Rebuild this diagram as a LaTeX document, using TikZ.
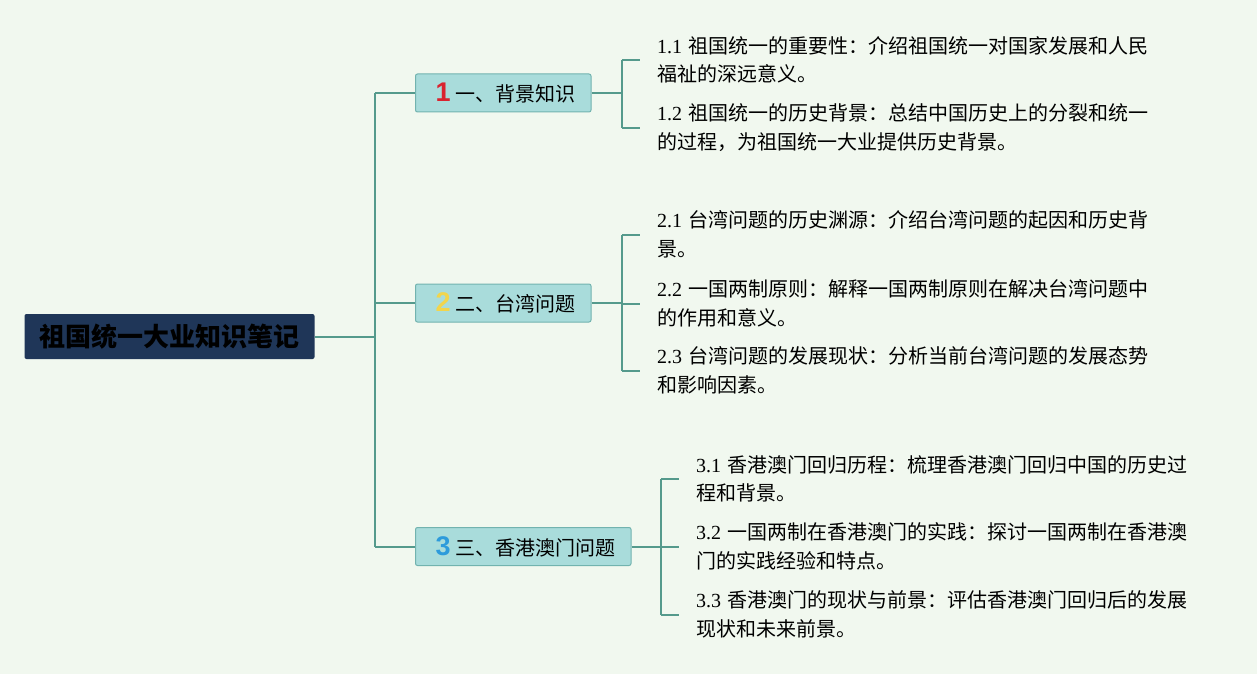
\documentclass[tikz,border=0pt]{standalone}
\usepackage{fontspec}
\setmainfont{Liberation Serif}
\newfontfamily\cjk{Noto Sans CJK SC}
\newfontfamily\numfont{Liberation Sans}
\usetikzlibrary{positioning}

\definecolor{bgcol}{HTML}{F1F8EF}
\definecolor{rootcol}{HTML}{1F3658}
\definecolor{boxcol}{HTML}{A9DCDB}
\definecolor{boxline}{HTML}{72B3AF}
\definecolor{linecol}{HTML}{559A8C}
\definecolor{numred}{HTML}{D9232F}
\definecolor{numyellow}{HTML}{F2D54C}
\definecolor{numblue}{HTML}{2D9BDB}

\tikzset{
	root/.style={fill=rootcol, rounded corners=2pt, minimum height=45pt, inner xsep=15pt, text=black, font=\cjk\bfseries\fontsize{26}{30}\selectfont},
	topic/.style={fill=boxcol, draw=boxline, line width=1pt, rounded corners=2pt, minimum height=38pt, inner xsep=16pt, font=\cjk\fontsize{20}{24}\selectfont},
	leaf/.style={anchor=west, inner xsep=17pt, inner ysep=0pt, text width=540pt, align=left, font=\fontsize{20}{28.5}\selectfont},
	link/.style={draw=linecol, line width=2pt},
}
\newcommand{\topicnum}[2]{\hspace*{4pt}{\numfont\bfseries\fontsize{27}{27}\selectfont\color{#1}#2}}

\begin{document}
\begin{tikzpicture}[x=1pt,y=-1pt]

	\fill[bgcol] (0,0) rectangle (1257,674);

	% root and topics
	\node[root] (root) at (169.5,336.5) {祖国统一大业知识笔记};
	\node[topic, anchor=west] (t1) at (415,93) {\topicnum{numred}{1} 一、背景知识};
	\node[topic, anchor=west] (t2) at (415,303) {\topicnum{numyellow}{2} 二、台湾问题};
	\node[topic, anchor=west] (t3) at (415,546.5) {\topicnum{numblue}{3} 三、香港澳门问题};

	% leaves
	\node[leaf] (l11) at (640,60) {1.1 \cjk 祖国统一的重要性：介绍祖国统一对国家发展和人民\\福祉的深远意义。};
	\node[leaf] (l12) at (640,127.5) {1.2 \cjk 祖国统一的历史背景：总结中国历史上的分裂和统一\\的过程，为祖国统一大业提供历史背景。};

	\node[leaf] (l21) at (640,234.5) {2.1 \cjk 台湾问题的历史渊源：介绍台湾问题的起因和历史背\\景。};
	\node[leaf] (l22) at (640,303.5) {2.2 \cjk 一国两制原则：解释一国两制原则在解决台湾问题中\\的作用和意义。};
	\node[leaf] (l23) at (640,370.5) {2.3 \cjk 台湾问题的发展现状：分析当前台湾问题的发展态势\\和影响因素。};

	\node[leaf] (l31) at (679,479) {3.1 \cjk 香港澳门回归历程：梳理香港澳门回归中国的历史过\\程和背景。};
	\node[leaf] (l32) at (679,546.5) {3.2 \cjk 一国两制在香港澳门的实践：探讨一国两制在香港澳\\门的实践经验和特点。};
	\node[leaf] (l33) at (679,614.5) {3.3 \cjk 香港澳门的现状与前景：评估香港澳门回归后的发展\\现状和未来前景。};

	% trunk
	\coordinate (tr) at (375,0);
	\draw[link] (root.east) -- (root.east -| tr);
	\draw[link] (t1.west -| tr) -- (t3.west -| tr);
	\draw[link] (t1.west -| tr) -- (t1.west);
	\draw[link] (t2.west -| tr) -- (t2.west);
	\draw[link] (t3.west -| tr) -- (t3.west);

	% brackets
	\coordinate (b1) at (622,0);
	\draw[link] (t1.east) -- (t1.east -| b1);
	\draw[link] (l11.west -| b1) -- (l12.west -| b1);
	\draw[link] (l11.west -| b1) -- (l11.west);
	\draw[link] (l12.west -| b1) -- (l12.west);

	\coordinate (b2) at (622,0);
	\draw[link] (t2.east) -- (t2.east -| b2);
	\draw[link] (l21.west -| b2) -- (l23.west -| b2);
	\draw[link] (l21.west -| b2) -- (l21.west);
	\draw[link] (l22.west -| b2) -- (l22.west);
	\draw[link] (l23.west -| b2) -- (l23.west);

	\coordinate (b3) at (661,0);
	\draw[link] (t3.east) -- (t3.east -| b3);
	\draw[link] (l31.west -| b3) -- (l33.west -| b3);
	\draw[link] (l31.west -| b3) -- (l31.west);
	\draw[link] (l32.west -| b3) -- (l32.west);
	\draw[link] (l33.west -| b3) -- (l33.west);

\end{tikzpicture}
\end{document}
